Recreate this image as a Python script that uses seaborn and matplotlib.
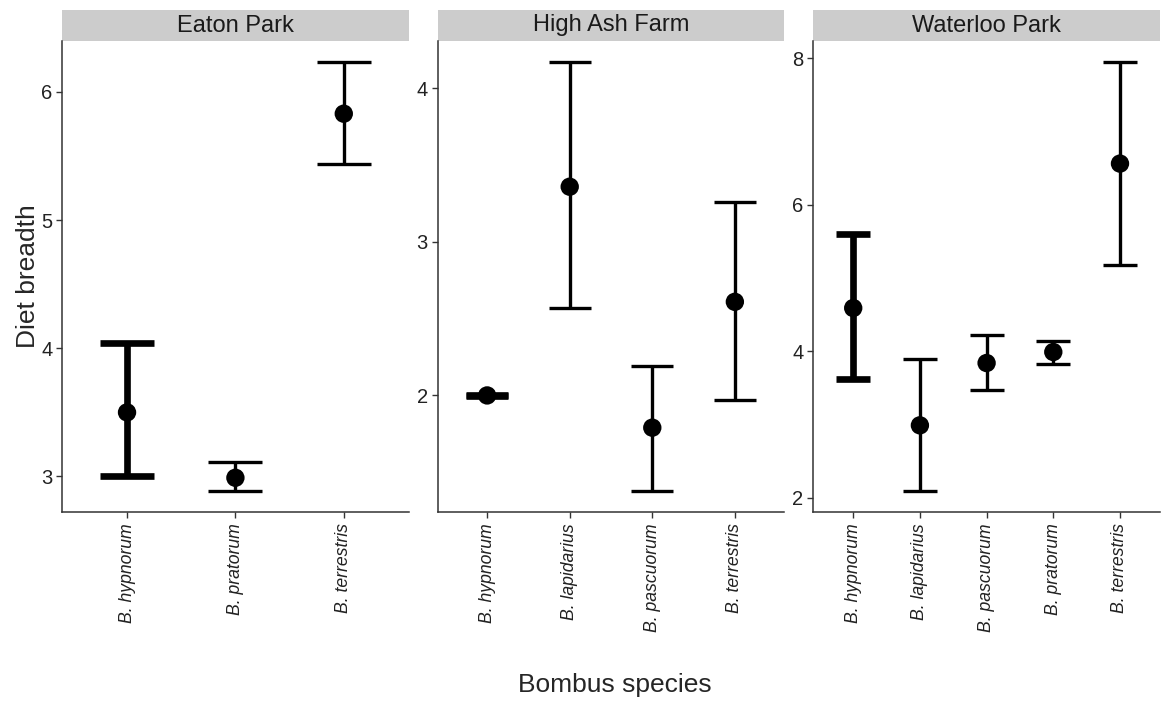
import matplotlib.pyplot as plt
import numpy as np
import pandas as pd
import seaborn as sns

# %% data

sites = ["Eaton Park", "High Ash Farm", "Waterloo Park"]

ep_species = ["B. hypnorum", "B. pratorum", "B. terrestris"]
ep_mean = [3.50, 2.99, 5.83]
ep_lower = [3.00, 2.89, 5.44]
ep_upper = [4.04, 3.11, 6.23]

haf_species = ["B. hypnorum", "B. lapidarius", "B. pascuorum", "B. terrestris"]
haf_mean = [2.00, 3.36, 1.79, 2.61]
haf_lower = [1.995, 2.57, 1.38, 1.97]
haf_upper = [2.005, 4.17, 2.19, 3.26]

wp_species = ["B. hypnorum", "B. lapidarius", "B. pascuorum", "B. pratorum", "B. terrestris"]
wp_mean = [4.59, 2.99, 3.84, 3.99, 6.56]
wp_lower = [3.62, 2.10, 3.47, 3.83, 5.18]
wp_upper = [5.60, 3.90, 4.22, 4.14, 7.94]

frames = []
for site, sp, m, lo, hi in zip(
    sites,
    [ep_species, haf_species, wp_species],
    [ep_mean, haf_mean, wp_mean],
    [ep_lower, haf_lower, wp_lower],
    [ep_upper, haf_upper, wp_upper],
):
    frames.append(pd.DataFrame({"site": site, "species": sp, "breadth": m, "lower": lo, "upper": hi}))
df = pd.concat(frames, ignore_index=True)

# %% plot

sns.set_theme(style="ticks")
plt.rcParams["font.family"] = ["Liberation Sans", "DejaVu Sans"]

fig, axes = plt.subplots(1, 3, figsize=(11.63, 7.02), dpi=100)
fig.subplots_adjust(left=62 / 1163, right=1160 / 1163, bottom=1 - 512 / 702, top=1 - 41 / 702, wspace=0.083)

strip_h = 31 / 471
dark = "#333333"

for ax, site in zip(axes, sites):
    sub = df[df["site"] == site]
    n = len(sub)
    sns.scatterplot(data=sub, x="species", y="breadth", ax=ax, color="black", s=175, edgecolor="none", zorder=3)

    # cap half-width = 0.25 category units, like ggplot width=0.5
    width_pt = ax.get_position().width * fig.get_figwidth() * 72
    cap = 0.25 * width_pt / (n + 0.2)
    for bold, lw in [(False, 2.4), (True, 4.8)]:
        part = sub[(sub["species"] == "B. hypnorum") == bold]
        ax.errorbar(
            part["species"],
            part["breadth"],
            yerr=[part["breadth"] - part["lower"], part["upper"] - part["breadth"]],
            fmt="none",
            ecolor="black",
            elinewidth=lw,
            capsize=cap,
            capthick=lw,
            zorder=2,
        )

    ax.set_xlim(-0.6, n - 0.4)
    ax.margins(y=0.05)
    ax.yaxis.set_major_locator(plt.MaxNLocator(nbins=4, steps=[1, 2, 5, 10]))
    ax.set_xticks(range(n), sub["species"], rotation=90, fontstyle="italic")
    ax.tick_params(axis="x", labelsize=12.7, length=4, width=1, color=dark, labelcolor="#222222", pad=4)
    ax.tick_params(axis="y", labelsize=14.5, length=4, width=1, color=dark, labelcolor="#222222", pad=3)
    ax.set_xlabel("")
    ax.set_ylabel("")
    sns.despine(ax=ax)
    for side in ["left", "bottom"]:
        ax.spines[side].set_color(dark)
        ax.spines[side].set_linewidth(1.1)

    ax.add_patch(
        plt.Rectangle((0, 1), 1, strip_h, transform=ax.transAxes, facecolor="#CCCCCC", edgecolor="none", clip_on=False)
    )
    ax.text(0.5, 1 + strip_h / 2, site, transform=ax.transAxes, ha="center", va="center", fontsize=17, color="#1a1a1a")

fig.text(28 / 1163, 1 - 276.5 / 702, "Diet breadth", rotation=90, ha="center", va="center", fontsize=19)
fig.text(615 / 1163, 1 - 685 / 702, "Bombus species", ha="center", va="center", fontsize=19)

fig.savefig("out.png", dpi=100, facecolor="w")
